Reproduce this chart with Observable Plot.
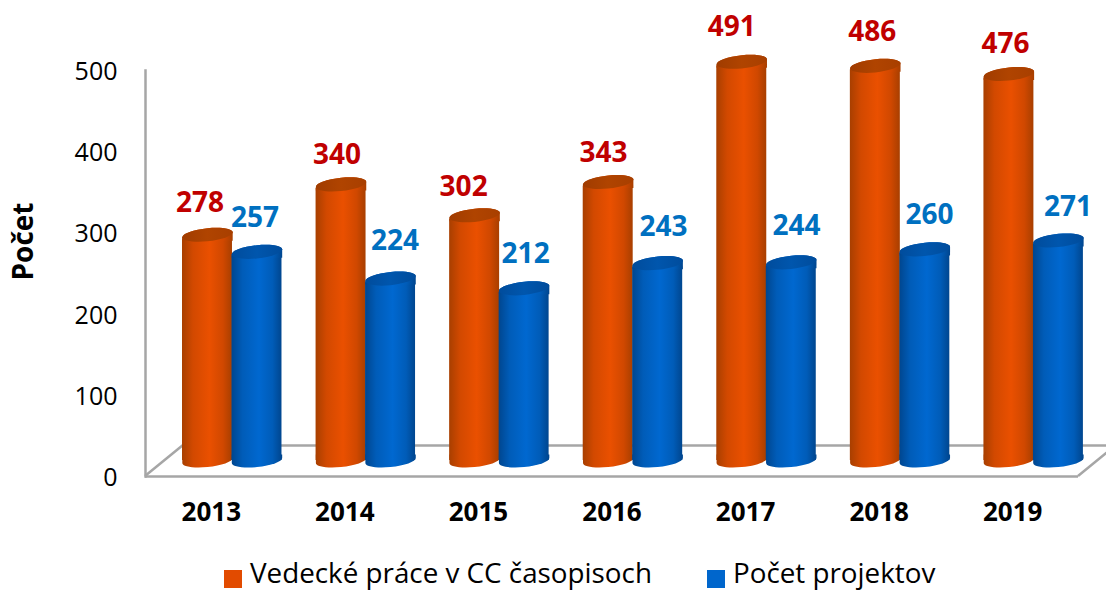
<!DOCTYPE html>
<html lang="sk">
<head>
<meta charset="utf-8">
<title>Vedecké práce a projekty</title>
<script src="https://cdn.jsdelivr.net/npm/d3@7"></script>
<script src="https://cdn.jsdelivr.net/npm/@observablehq/plot@0.6"></script>
<style>
  html, body { margin: 0; padding: 0; background: #fff; overflow: hidden; }
  #page { position: relative; width: 1106px; height: 592px; overflow: hidden; font-family: "Open Sans", sans-serif; }
  #chart svg { display: block; }
  .leg { position: absolute; top: 557px; font-size: 27.8px; line-height: 31px; color: #000; white-space: nowrap; }
  .sw { position: absolute; top: 570px; width: 18px; height: 18px; }
</style>
</head>
<body>
<div id="page">
  <div id="chart"></div>
  <span class="sw" style="left:224px;background:#e24b00"></span>
  <span class="leg" id="leg1" style="left:250px"></span>
  <span class="sw" style="left:707px;background:#0066cc"></span>
  <span class="leg" id="leg2" style="left:733px"></span>
</div>
<script>
const years = ["2013", "2014", "2015", "2016", "2017", "2018", "2019"];
const seriesNames = ["Vedecké práce v CC časopisoch", "Počet projektov"];
const vedecke = [278, 340, 302, 343, 491, 486, 476];
const projekty = [257, 224, 212, 243, 244, 260, 271];
const yTicks = [0, 100, 200, 300, 400, 500];
const yLabel = "Počet";

// Hand placement of the value labels relative to their cylinder
const vedeckeNudgeX = [-7.5, -4, -11, -4.8, -10, -3, -3.5];
const vedeckeNudgeY = [-33, -30, -29, -30, -36, -35, -31];
const projektyNudgeX = [-2, 4.5, 1.5, 5.8, 5.2, 4.7, 9.6];
const projektyNudgeY = [-35, -39, -35, -37, -37, -35, -34];

const rows = a => years.map((year, i) => ({year, value: a[i]}));

// Cylinder cap geometry
const RX = 25.2, RY = 6.6, TILT = 2.5, K = 0.5523;
const pt = (u, v) => [u * RX, v * RY - u * TILT]; // unit circle -> tilted ellipse
function upperHalf(c) { // left to right across the top
  c.bezierCurveTo(...pt(-1, -K), ...pt(-K, -1), ...pt(0, -1));
  c.bezierCurveTo(...pt(K, -1), ...pt(1, -K), ...pt(1, 0));
}
function lowerHalf(c) { // left to right across the bottom
  c.bezierCurveTo(...pt(-1, K), ...pt(-K, 1), ...pt(0, 1));
  c.bezierCurveTo(...pt(K, 1), ...pt(1, K), ...pt(1, 0));
}
const capSymbol = {draw(c) { c.moveTo(...pt(-1, 0)); upperHalf(c);
  c.bezierCurveTo(...pt(1, K), ...pt(K, 1), ...pt(0, 1));
  c.bezierCurveTo(...pt(-K, 1), ...pt(-1, K), ...pt(-1, 0)); c.closePath(); }};
const shoulderSymbol = {draw(c) { c.moveTo(...pt(-1, 0)); upperHalf(c);
  c.lineTo(RX, 6); c.lineTo(-RX, 6); c.closePath(); }};
const baseSymbol = {draw(c) { c.moveTo(...pt(-1, 0)); lowerHalf(c);
  c.lineTo(RX, -6); c.lineTo(-RX, -6); c.closePath(); }};

function gradients() {
  const defs = d3.create("svg:defs");
  const add = (id, stops) => {
    const g = defs.append("linearGradient").attr("id", id)
      .attr("x1", 0).attr("x2", 1).attr("y1", 0).attr("y2", 0);
    stops.forEach(([o, c]) => g.append("stop").attr("offset", o).attr("stop-color", c));
  };
  add("bodyO", [[0, "#a83f00"], [0.22, "#d24900"], [0.55, "#ea5000"], [0.82, "#d04800"], [1, "#a83f00"]]);
  add("topO", [[0, "#a03c00"], [0.5, "#b04400"], [1, "#a83f00"]]);
  add("bodyB", [[0, "#00468f"], [0.22, "#005cb8"], [0.55, "#0068d0"], [0.82, "#005cb8"], [1, "#00468f"]]);
  add("topB", [[0, "#004c9c"], [0.5, "#0056ad"], [1, "#004c9c"]]);
  return defs.node();
}

// The 3D floor: two diagonals joining the front edge to the back edge
const DEPTH_X = 38, DEPTH_Y = 31, FRONT_TRIM = 2;
function floorSides(index, scales, values, d) {
  const l = d.marginLeft, r = d.width - d.marginRight - FRONT_TRIM, b = d.height - d.marginBottom;
  return d3.create("svg:path")
    .attr("d", `M${l},${b}L${l + DEPTH_X},${b - DEPTH_Y}M${r},${b}L${r + DEPTH_X},${b - DEPTH_Y}`)
    .attr("fill", "none").attr("stroke", "#a6a6a6").attr("stroke-width", 2.5).node();
}

const BAR_DY = -16, LABEL_DY = -15, INSET = 41.8;
function cylinder(data, dx, body, top) {
  const o = {x: "year", dx, dy: BAR_DY};
  return [
    Plot.dot(data, {...o, y: () => 0, symbol: baseSymbol, fill: `url(#${body})`, stroke: "none"}),
    Plot.barY(data, {...o, y: "value", fill: `url(#${body})`, insetLeft: INSET, insetRight: INSET, insetTop: 4}),
    Plot.dot(data, {...o, y: "value", symbol: shoulderSymbol, fill: `url(#${body})`, stroke: "none"}),
    Plot.dot(data, {...o, y: "value", symbol: capSymbol, fill: `url(#${top})`, stroke: "none"})
  ];
}
function valueLabels(values, dx, nx, ny, color) {
  return values.map((v, i) => Plot.text([v], {
    x: () => years[i], y: d => d, text: d => String(d),
    dx: dx + nx[i], dy: LABEL_DY + ny[i],
    fill: color, fontSize: 28, fontWeight: "bold", textAnchor: "middle"
  }));
}

const DX_O = -4.8, DX_B = 44.7;
const chart = Plot.plot({
  width: 1106, height: 536,
  marginLeft: 145, marginRight: 26, marginTop: 70, marginBottom: 60,
  style: {fontFamily: "'Open Sans', sans-serif", background: "#fff", color: "#000", overflow: "visible"},
  x: {domain: years, padding: 0, round: false, axis: null},
  y: {domain: [0, 500], axis: null},
  marks: [
    gradients,
    Plot.ruleY([0], {dy: -DEPTH_Y, insetLeft: DEPTH_X, insetRight: -26, stroke: "#a6a6a6", strokeWidth: 2.5}),
    floorSides,
    Plot.frame({anchor: "left", stroke: "#a6a6a6", strokeWidth: 2.5}),
    Plot.ruleY([0], {insetRight: FRONT_TRIM, stroke: "#a6a6a6", strokeWidth: 2.5}),
    Plot.axisY({ticks: yTicks, tickSize: 0, tickPadding: 28, dy: 1.5, fontSize: 25, label: null, fill: "#000"}),
    Plot.axisX({tickSize: 0, tickPadding: 26, dx: -1, fontSize: 26, fontWeight: "bold", label: null, fill: "#000"}),
    Plot.text([yLabel], {frameAnchor: "left", textAnchor: "middle", rotate: -90, dx: -121, dy: -32, fontSize: 28, fontWeight: "bold", fill: "#000"}),
    ...cylinder(rows(vedecke), DX_O, "bodyO", "topO"),
    ...cylinder(rows(projekty), DX_B, "bodyB", "topB"),
    ...valueLabels(vedecke, DX_O, vedeckeNudgeX, vedeckeNudgeY, "#c00000"),
    ...valueLabels(projekty, DX_B, projektyNudgeX, projektyNudgeY, "#0070c0")
  ]
});
document.getElementById("chart").append(chart);
document.getElementById("leg1").textContent = seriesNames[0];
document.getElementById("leg2").textContent = seriesNames[1];
</script>
</body>
</html>
